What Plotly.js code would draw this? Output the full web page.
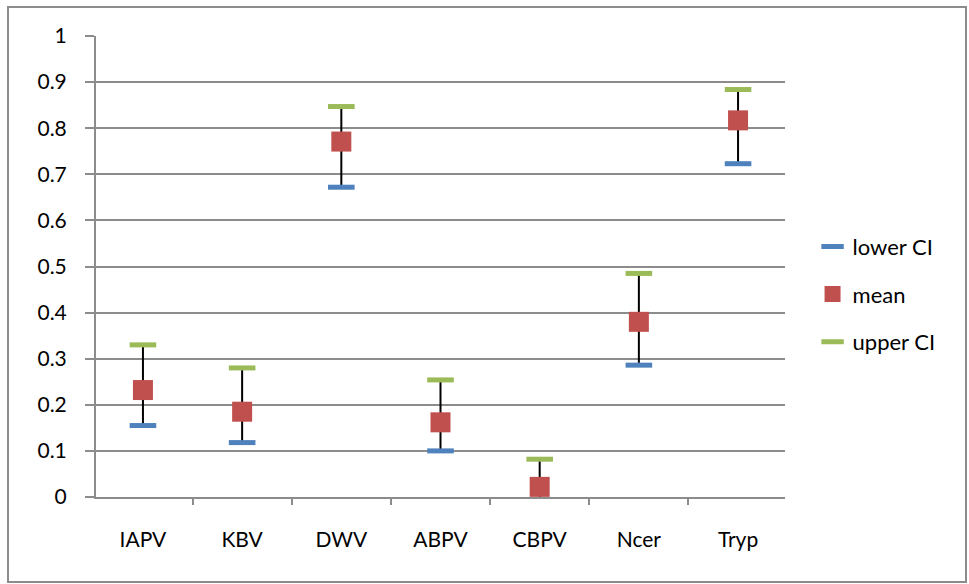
<!DOCTYPE html>
<html>
<head>
<meta charset="utf-8">
<script src="https://cdn.plot.ly/plotly-3.0.1.min.js"></script>
<style>
  html, body { margin: 0; padding: 0; background: #fff; }
  #wrap { position: relative; width: 969px; height: 584px; }
  #chart { position: absolute; left: 0; top: 0; width: 969px; height: 584px; }
  #frame { position: absolute; left: 7px; top: 6px; width: 960px; height: 577px;
           box-sizing: border-box; border: 2px solid #8c8c8c; pointer-events: none; }
</style>
</head>
<body>
<div id="wrap">
  <div id="chart"></div>
  <div id="frame"></div>
</div>
<script>
const categories = ["IAPV", "KBV", "DWV", "ABPV", "CBPV", "Ncer", "Tryp"];
const lowerCI = [0.155, 0.118, 0.672, 0.100, -0.02, 0.286, 0.723];
const meanVals = [0.232, 0.185, 0.771, 0.162, 0.022, 0.380, 0.817];
const upperCI = [0.330, 0.280, 0.847, 0.254, 0.082, 0.485, 0.884];
const yTickVals = [0, 0.1, 0.2, 0.3, 0.4, 0.5, 0.6, 0.7, 0.8, 0.9, 1];
const yTickText = ["0", "0.1", "0.2", "0.3", "0.4", "0.5", "0.6", "0.7", "0.8", "0.9", "1"];

const FONT = "Lato, 'Open Sans', sans-serif";

// high-low connector lines
const hlX = [], hlY = [];
categories.forEach((c, i) => {
  hlX.push(c, c, null);
  hlY.push(lowerCI[i], upperCI[i], null);
});

const traces = [
  {
    x: hlX, y: hlY, type: "scatter", mode: "lines",
    line: { color: "#000000", width: 2 },
    showlegend: false, hoverinfo: "skip"
  },
  {
    x: categories, y: lowerCI, type: "scatter", mode: "markers", name: "lower CI",
    legendgroup: "a",
    marker: { symbol: "line-ew", size: 19, line: { color: "#4F81BD", width: 5 } }
  },
  {
    x: categories, y: meanVals, type: "scatter", mode: "markers", name: "mean",
    legendgroup: "b",
    marker: { symbol: "square", size: 20, color: "#C0504D", line: { width: 0 } }
  },
  {
    x: categories, y: upperCI, type: "scatter", mode: "markers", name: "upper CI",
    legendgroup: "c",
    marker: { symbol: "line-ew", size: 19, line: { color: "#9BBB59", width: 5 } }
  }
];

const layout = {
  width: 969, height: 584,
  margin: { l: 96, r: 184, t: 36, b: 87 },
  paper_bgcolor: "rgba(0,0,0,0)",
  plot_bgcolor: "#ffffff",
  font: { family: FONT, size: 21, color: "#000000" },
  showlegend: true,
  legend: {
    x: 1.04, y: 0.44, xanchor: "left", yanchor: "middle",
    font: { family: FONT, size: 22, color: "#000000" },
    tracegroupgap: 16, itemsizing: "trace",
    bgcolor: "rgba(0,0,0,0)"
  },
  xaxis: {
    type: "category",
    tickson: "boundaries",
    ticks: "outside", ticklen: 6, tickwidth: 2, tickcolor: "#8c8c8c",
    showline: true, linecolor: "#8c8c8c", linewidth: 2,
    showgrid: false, zeroline: false,
    ticklabelstandoff: 23,
    tickfont: { family: FONT, size: 21, color: "#000000" },
    fixedrange: true
  },
  yaxis: {
    range: [0, 1],
    tickmode: "array", tickvals: yTickVals, ticktext: yTickText,
    ticks: "outside", ticklen: 9, tickwidth: 2, tickcolor: "#8c8c8c",
    showline: true, linecolor: "#8c8c8c", linewidth: 2,
    showgrid: true, gridcolor: "#8c8c8c", gridwidth: 2,
    zeroline: false,
    ticklabelstandoff: 14,
    tickfont: { family: FONT, size: 21, color: "#000000" },
    fixedrange: true
  }
};

Plotly.newPlot("chart", traces, layout, { staticPlot: true, displayModeBar: false });
</script>
</body>
</html>
